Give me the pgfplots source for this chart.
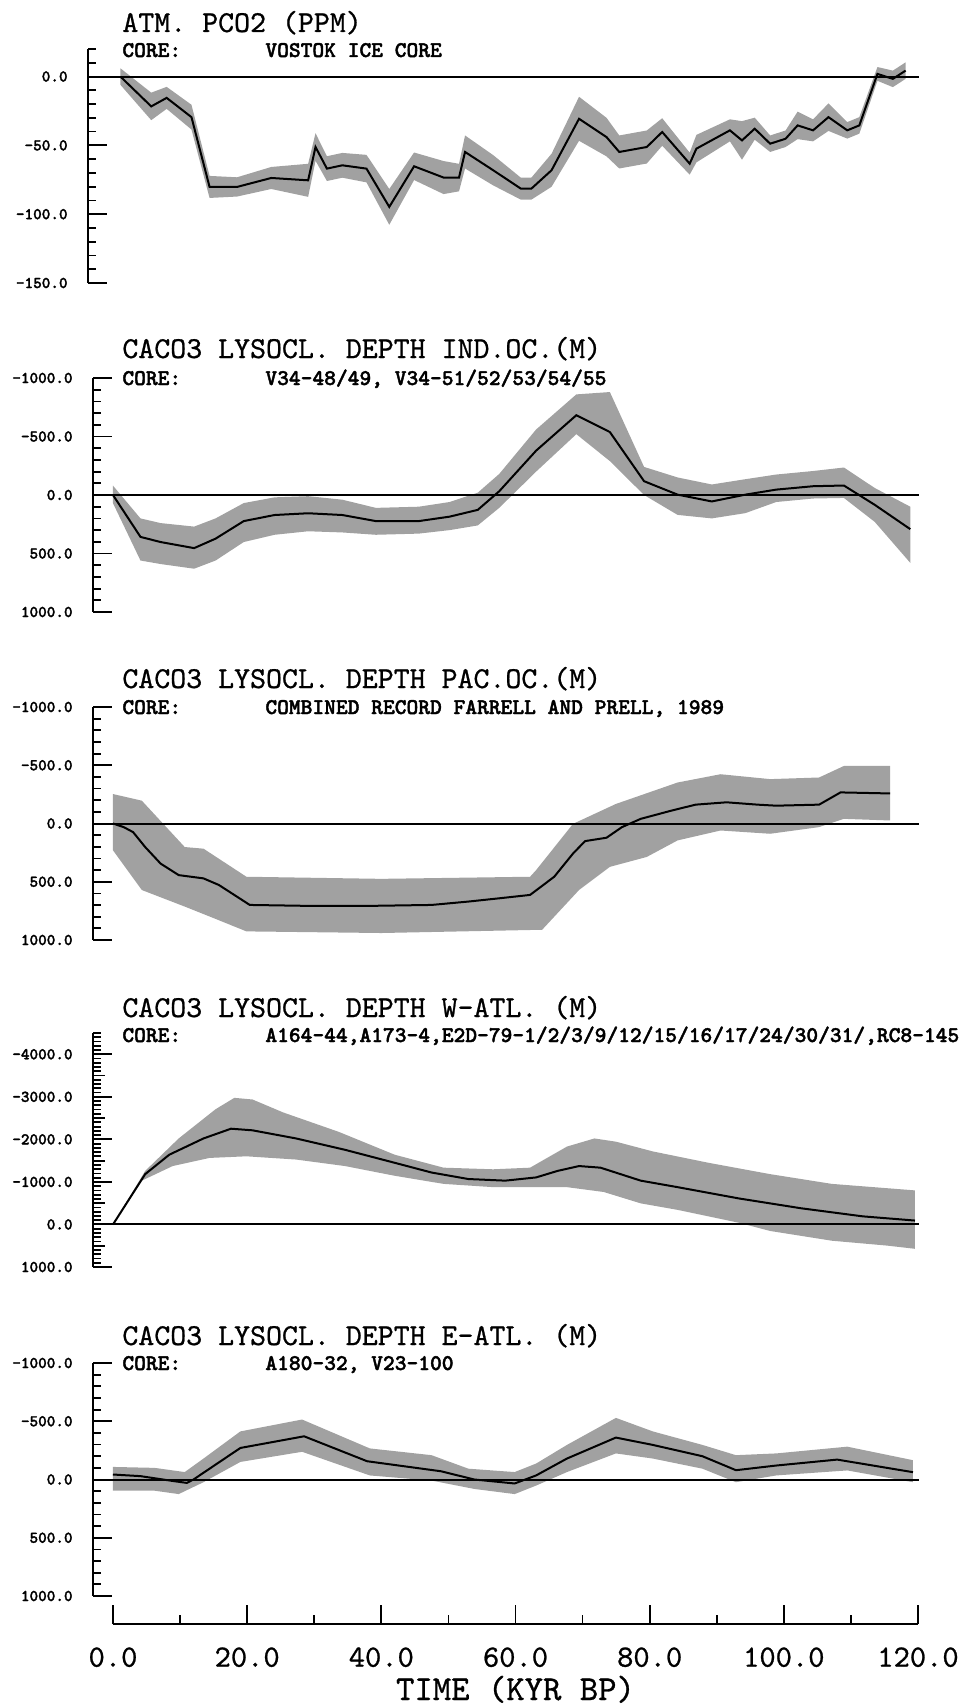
\documentclass[border=0pt]{standalone}
\usepackage{fontspec}
\newfontfamily\lmreg{lmmono10-regular.otf}[FakeBold=0.8]
\newfontfamily\lmbold{lmmonolt10-bold.otf}[FakeBold=1.8]
\usepackage{pgfplots}
\usepackage{pgfplotstable}
\pgfplotsset{compat=1.18}
\usepgfplotslibrary{fillbetween}

% ---------- Panel 1: ATM. PCO2 ----------
\pgfplotstableread{
x y lo hi
1.1 0 -6 6
5.7 -21.7 -31.7 -11.7
8.0 -15.5 -23.5 -7.5
11.7 -29.5 -38.5 -20.5
14.4 -80.2 -88.2 -72.2
18.5 -80.2 -87.2 -73.2
23.6 -73.7 -81.7 -65.7
29.1 -75.4 -87.4 -63.4
30.2 -51.2 -61.2 -41.2
31.9 -66.9 -75.9 -57.9
34.2 -64.5 -73.5 -55.5
37.8 -66.9 -76.9 -56.9
41.2 -94.7 -107.7 -81.7
44.9 -65.2 -75.2 -55.2
49.3 -73.4 -85.4 -61.4
51.6 -73.4 -83.4 -63.4
52.5 -54.8 -66.8 -42.8
56.7 -68.1 -79.1 -57.1
60.8 -81.4 -89.4 -73.4
62.4 -81.4 -89.4 -73.4
65.4 -68.1 -80.1 -56.1
69.5 -30.7 -46.7 -14.7
73.6 -44.0 -58.0 -30.0
75.5 -54.8 -66.8 -42.8
79.6 -51.2 -63.2 -39.2
81.9 -40.3 -50.3 -30.3
86.0 -63.3 -71.3 -55.3
87.0 -52.4 -62.4 -42.4
92.0 -39.1 -47.1 -31.1
93.8 -46.4 -60.4 -32.4
95.7 -37.9 -45.9 -29.9
98.0 -48.8 -54.8 -42.8
100.3 -45.2 -51.2 -39.2
102.1 -35.5 -45.5 -25.5
104.4 -39.1 -47.1 -31.1
106.7 -29.5 -39.5 -19.5
109.5 -39.1 -45.1 -33.1
111.3 -35.5 -41.5 -29.5
114.0 1.9 -3.1 6.9
116.3 -1.7 -7.7 4.3
118.2 4.3 -1.7 10.3
}\pone

% ---------- Panel 2: IND.OC. ----------
\pgfplotstableread{
x y top bot
0 0 -80 70
4.1 358 200 560
7.1 402 240 590
12.1 454 270 630
15.3 373 200 560
19.5 223 69 402
24.1 171 20 340
29.1 156 10 310
34.2 171 40 320
39.2 223 110 340
45.6 223 100 330
50.2 185 60 300
54.4 127 -20 260
57.6 -32 -180 110
63.1 -379 -560 -200
69.1 -682 -860 -520
74.1 -538 -880 -290
79.2 -118 -240 0
84.2 -3 -150 170
89.3 55 -90 200
94.3 -3 -135 155
98.9 -46 -175 60
104.4 -75 -205 30
109.0 -81 -235 25
113.6 84 -60 230
118.9 292 100 580
}\ptwo

% ---------- Panel 3: PAC.OC. ----------
\pgfplotstableread{
x y
0 0
1.6 31
3.0 74
4.8 202
7.1 344
9.8 443
13.5 471
15.8 528
20.4 699
29.1 707
38.3 707
47.5 699
53.0 670
57.6 642
62.2 613
65.8 457
68.6 258
70.4 151
73.6 122
75.9 31
78.7 -40
83.3 -111
86.9 -162
91.5 -182
96.1 -162
98.9 -153
105.3 -162
108.5 -267
115.9 -258
}\pthreeL
\pgfplotstableread{
x y
0 -253
4.3 -196
10.7 202
13.5 216
19.9 457
40.0 475
62.2 457
63.1 400
68.6 3
75.0 -168
84.2 -352
90.6 -423
98.0 -381
105.3 -395
109.0 -494
115.9 -494
}\pthreeT
\pgfplotstableread{
x y
0 230
4.3 571
10.7 713
14.4 798
19.9 926
40.0 940
64.0 912
69.5 571
74.1 372
79.6 287
84.2 145
90.6 60
98.0 88
105.3 31
109.0 -40
115.9 -26
}\pthreeB

% ---------- Panel 4: W-ATL ----------
\pgfplotstableread{
x y
0 0
4.8 -1183
8.4 -1640
13.5 -2022
17.6 -2251
20.8 -2213
27.3 -2022
34.6 -1755
42.0 -1450
47.5 -1221
53.0 -1068
58.5 -1030
63.1 -1106
66.3 -1259
69.5 -1373
72.7 -1335
78.7 -1030
84.2 -877
93.4 -610
102.6 -381
111.8 -191
119.6 -92
}\pfourL
\pgfplotstableread{
x y
0 0
4.8 -1259
9.8 -2022
15.3 -2709
18.1 -2976
20.8 -2938
25.4 -2632
33.7 -2175
42.0 -1640
49.3 -1335
56.7 -1297
62.2 -1335
67.7 -1831
71.8 -2022
75.0 -1946
80.5 -1717
88.8 -1450
98.0 -1183
107.2 -954
119.6 -801
}\pfourT
\pgfplotstableread{
x y
0 0
4.3 -1030
8.9 -1373
14.4 -1564
19.9 -1602
27.3 -1526
34.6 -1373
42.0 -1145
49.3 -954
56.7 -877
62.2 -877
67.7 -877
73.2 -763
78.7 -496
84.2 -343
93.4 -38
98.0 153
107.2 382
115.4 496
119.6 572
}\pfourB

% ---------- Panel 5: E-ATL ----------
\pgfplotstableread{
x y
0 -43
4.1 -29
9.1 14
11.0 29
12.0 0
19.0 -271
28.5 -371
37.9 -157
48.9 -71
53.9 0
59.9 34
63.1 -35
67.7 -180
75.0 -360
80.5 -297
87.9 -200
92.9 -80
98.9 -120
108.0 -171
119.3 -63
}\pfiveL
\pgfplotstableread{
x y
0 -108
6.2 -100
10.7 -64
13.5 -180
19.0 -413
28.2 -515
38.3 -267
47.5 -209
53.0 -93
59.9 -64
63.1 -137
67.7 -297
75.0 -529
80.5 -413
87.9 -297
92.9 -209
98.9 -224
109.5 -282
119.3 -166
}\pfiveT
\pgfplotstableread{
x y
0 96
6.2 96
9.8 125
13.5 23
19.0 -151
28.2 -238
38.3 -35
47.5 9
53.9 81
59.9 125
63.1 52
67.7 -64
75.0 -224
80.5 -180
87.9 -93
92.9 23
98.9 -35
109.5 -78
119.3 23
}\pfiveB

\pgfplotsset{
  panel/.style={
    scale only axis, anchor=south west,
    axis lines*=left, hide x axis,
    tick align=inside,
    major tick length=9.5pt, minor tick length=4pt,
    axis line style={line width=1pt, black},
    tick style={line width=0.9pt, black},
    yticklabel style={font=\lmbold\fontsize{8.2pt}{9pt}\selectfont, inner sep=0pt, xshift=-10pt},
    clip=false,
  },
  pA/.style={panel, xmin=-2.98, xmax=120.2, width=413pt},
  band/.style={fill=black!37, draw=none},
  dline/.style={black, line width=1pt},
  zline/.style={black, line width=1pt},
}

\newcommand{\ttl}[2]{\node[anchor=base west, inner sep=0pt] at (61pt,#1) {\lmreg\fontsize{15.2pt}{16pt}\selectfont #2};}
\newcommand{\core}[2]{%
  \node[anchor=base west, inner sep=0pt] at (61pt,#1) {\lmbold\fontsize{11.2pt}{12pt}\selectfont CORE:};
  \node[anchor=base west, inner sep=0pt] at (132.5pt,#1) {\lmbold\fontsize{11.2pt}{12pt}\selectfont #2};}

\begin{document}
\begin{tikzpicture}

% Titles
\ttl{-16pt}{ATM. PCO2 (PPM)}
\core{-28.5pt}{VOSTOK ICE CORE}
\ttl{-179pt}{CACO3 LYSOCL. DEPTH IND.OC.(M)}
\core{-192.5pt}{V34-48/49, V34-51/52/53/54/55}
\ttl{-344pt}{CACO3 LYSOCL. DEPTH PAC.OC.(M)}
\core{-357pt}{COMBINED RECORD FARRELL AND PRELL, 1989}
\ttl{-508.5pt}{CACO3 LYSOCL. DEPTH W-ATL. (M)}
\core{-521pt}{A164-44,A173-4,E2D-79-1/2/3/9/12/15/16/17/24/30/31/,RC8-145}
\ttl{-672.5pt}{CACO3 LYSOCL. DEPTH E-ATL. (M)}
\core{-685pt}{A180-32, V23-100}

% Panel 1
\begin{axis}[panel, xmin=-3.73, xmax=120.2, width=415.5pt,
  at={(44pt,-141.5pt)}, height=117pt,
  ymin=-150, ymax=20,
  ytick={-150,-100,-50,0}, yticklabels={-150.0,-100.0,-50.0,0.0},
  minor ytick={-140,-130,...,20}]
\addplot[draw=none, name path=a1] table[x=x, y=lo] {\pone};
\addplot[draw=none, name path=b1] table[x=x, y=hi] {\pone};
\addplot[band] fill between[of=a1 and b1];
\addplot[zline] coordinates {(-3.73,0) (120.2,0)};
\addplot[dline] table[x=x, y=y] {\pone};
\end{axis}

% Panel 2
\begin{axis}[pA, at={(46.5pt,-306pt)}, height=117pt,
  y dir=reverse, ymin=-1000, ymax=1000,
  ytick={-1000,-500,0,500,1000}, yticklabels={-1000.0,-500.0,0.0,500.0,1000.0},
  minor ytick={-900,-800,...,900}]
\addplot[draw=none, name path=a2] table[x=x, y=top] {\ptwo};
\addplot[draw=none, name path=b2] table[x=x, y=bot] {\ptwo};
\addplot[band] fill between[of=a2 and b2];
\addplot[zline] coordinates {(-2.98,0) (120.2,0)};
\addplot[dline] table[x=x, y=y] {\ptwo};
\end{axis}

% Panel 3
\begin{axis}[pA, at={(46.5pt,-470pt)}, height=116.5pt,
  y dir=reverse, ymin=-1000, ymax=1000,
  ytick={-1000,-500,0,500,1000}, yticklabels={-1000.0,-500.0,0.0,500.0,1000.0},
  minor ytick={-900,-800,...,900}]
\addplot[draw=none, name path=a3] table[x=x, y=y] {\pthreeT};
\addplot[draw=none, name path=b3] table[x=x, y=y] {\pthreeB};
\addplot[band] fill between[of=a3 and b3];
\addplot[zline] coordinates {(-2.98,0) (120.2,0)};
\addplot[dline] table[x=x, y=y] {\pthreeL};
\end{axis}

% Panel 4
\begin{axis}[pA, at={(46.5pt,-633.5pt)}, height=117pt,
  y dir=reverse, ymin=-4500, ymax=1000,
  ytick={-4000,-3000,-2000,-1000,0,1000}, yticklabels={-4000.0,-3000.0,-2000.0,-1000.0,0.0,1000.0},
  minor ytick={-4500,-4400,...,900},
  extra y ticks={-3500,-2500,-1500,-500,500}, extra y tick labels={},
  extra y tick style={major tick length=6pt}]
\addplot[draw=none, name path=a4] table[x=x, y=y] {\pfourT};
\addplot[draw=none, name path=b4] table[x=x, y=y] {\pfourB};
\addplot[band] fill between[of=a4 and b4];
\addplot[zline] coordinates {(-2.98,0) (120.2,0)};
\addplot[dline] table[x=x, y=y] {\pfourL};
\end{axis}

% Panel 5
\begin{axis}[pA, at={(46.5pt,-798pt)}, height=116.5pt,
  y dir=reverse, ymin=-1000, ymax=1000,
  ytick={-1000,-500,0,500,1000}, yticklabels={-1000.0,-500.0,0.0,500.0,1000.0},
  minor ytick={-900,-800,...,900}]
\addplot[draw=none, name path=a5] table[x=x, y=y] {\pfiveT};
\addplot[draw=none, name path=b5] table[x=x, y=y] {\pfiveB};
\addplot[band] fill between[of=a5 and b5];
\addplot[zline] coordinates {(-2.98,0) (120.2,0)};
\addplot[dline] table[x=x, y=y] {\pfiveL};
\end{axis}

% Time axis
\begin{axis}[at={(56.5pt,-812pt)}, anchor=south west, scale only axis,
  width=402.5pt, height=20pt, xmin=0, xmax=120, ymin=0, ymax=1,
  axis lines*=left, hide y axis,
  xtick={0,20,...,120}, xticklabels={0.0,20.0,40.0,60.0,80.0,100.0,120.0},
  minor xtick={10,30,...,110},
  tick align=inside, major tick length=9.5pt, minor tick length=4.5pt,
  axis line style={line width=1pt, black}, tick style={line width=0.9pt, black},
  xticklabel style={font=\lmreg\fontsize{15.5pt}{16pt}\selectfont, inner sep=0pt, yshift=-11.5pt},
  clip=false]
\addplot[draw=none] coordinates {(0,0) (120,1)};
\end{axis}

\node[anchor=base, inner sep=0pt] at (257.75pt,-850pt) {\lmreg\fontsize{17.5pt}{18pt}\selectfont TIME (KYR BP)};

\pgfresetboundingbox
\path[use as bounding box] (0pt,0pt) rectangle (483pt,-853.5pt);
\end{tikzpicture}
\end{document}
